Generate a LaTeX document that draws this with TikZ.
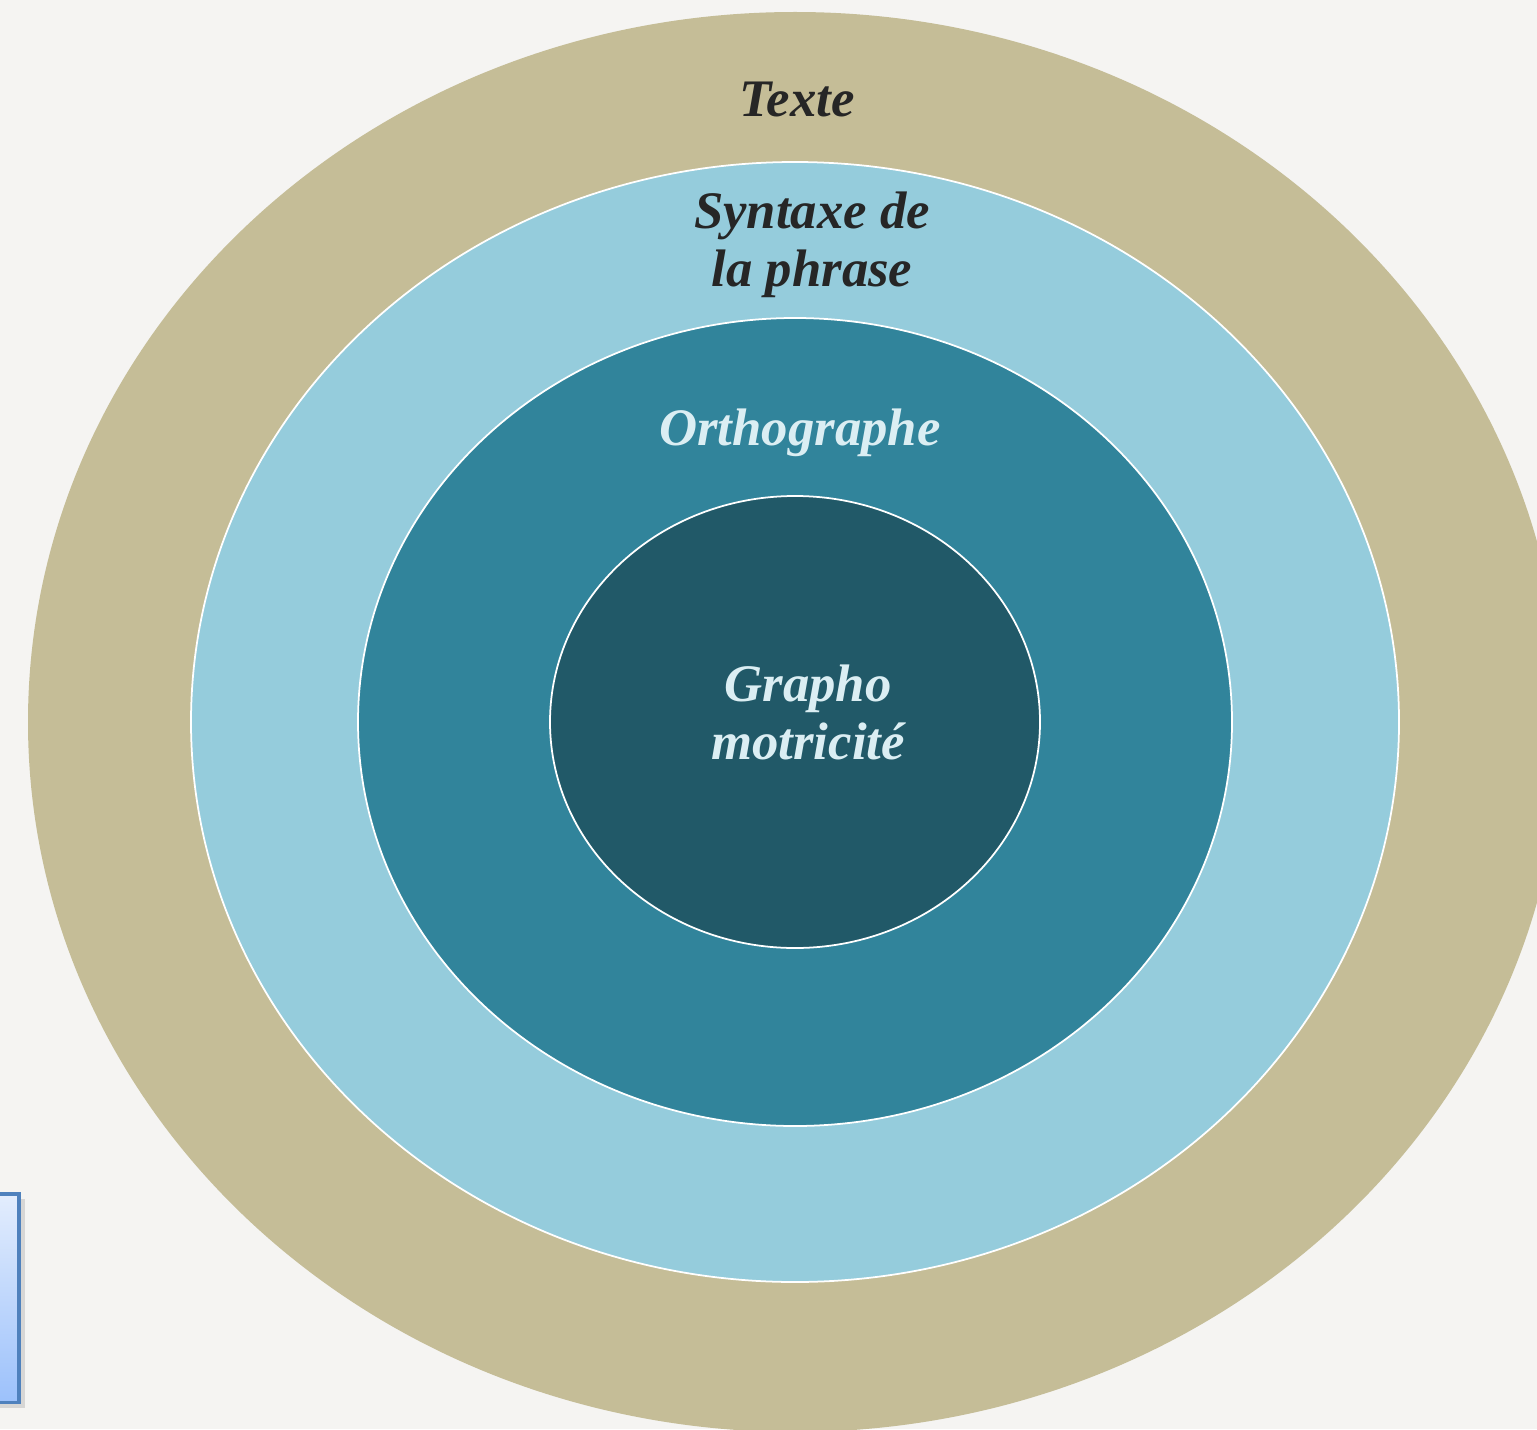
\documentclass[tikz,border=0pt]{standalone}
\usepackage{fontspec}
\setmainfont{Liberation Serif}
\usetikzlibrary{shadows}

\definecolor{bgcol}{HTML}{F5F4F2}
\definecolor{tancol}{HTML}{C5BD97}
\definecolor{skycol}{HTML}{95CCDC}
\definecolor{tealcol}{HTML}{31849B}
\definecolor{deepcol}{HTML}{215968}
\definecolor{darktxt}{HTML}{262626}
\definecolor{lighttxt}{HTML}{DBEEF3}
\definecolor{boxline}{HTML}{4F81BD}
\definecolor{boxtop}{HTML}{E3EDFD}
\definecolor{boxbot}{HTML}{9CC1FB}

\tikzset{
  ring/.style={draw=white, line width=0.5pt},
  label/.style={align=center, font=\fontsize{15}{16.5}\selectfont\bfseries\itshape, inner sep=0pt},
}

\begin{document}
\begin{tikzpicture}[x=0.01cm, y=0.01cm]
        % page
        \fill[bgcol] (0,0) rectangle (1537,1429);
        \useasboundingbox (0,0) rectangle (1537,1429);
        \clip (0,0) rectangle (1537,1429);

        \coordinate (c) at (795,707);

        % rings
        \fill[tancol] (c) ellipse [x radius=767, y radius=710];
        \draw[ring, fill=skycol] (c) ellipse [x radius=604, y radius=560];
        \draw[ring, fill=tealcol] (c) ellipse [x radius=437, y radius=404];
        \draw[ring, fill=deepcol] (c) ellipse [x radius=245, y radius=226];

        % labels
        \node[label, text=darktxt] (texte) at (797,1330) {Texte};
        \node[label, text=darktxt] (syntaxe) at (812,1184) {Syntaxe de\\la phrase};
        \node[label, text=lighttxt] (ortho) at (800,996) {Orthographe};
        \node[label, text=lighttxt] (grapho) at (808,717) {Grapho\\motricité};

        % box at the left edge
        \node[draw=boxline, line width=1pt, top color=boxtop, bottom color=boxbot,
              drop shadow={opacity=0.25, shadow xshift=1.5pt, shadow yshift=-1.5pt},
              minimum width=0.4cm, minimum height=2.08cm, inner sep=0pt, anchor=south east] (side) at (21,25) {};
\end{tikzpicture}
\end{document}
